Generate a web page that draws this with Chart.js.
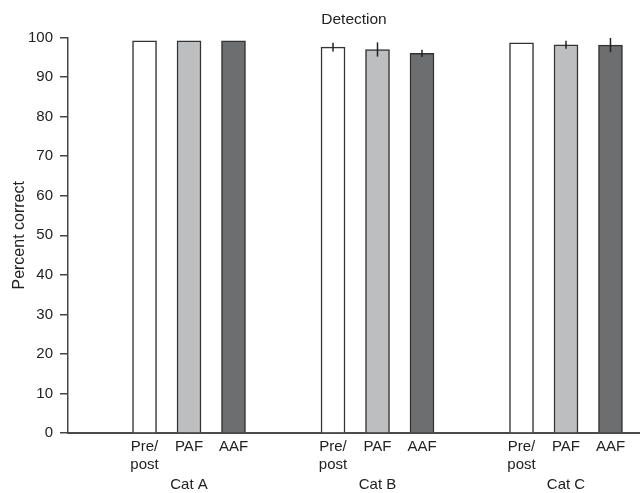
<!DOCTYPE html>
<html><head><meta charset="utf-8">
<script src="https://cdn.jsdelivr.net/npm/chart.js@4/dist/chart.umd.min.js"></script>
<style>html,body{margin:0;padding:0;background:#fff}</style>
</head><body>
<canvas id="c" width="640" height="493"></canvas>
<script>
// ---- data ----
const categories = ['Cat A', 'Cat B', 'Cat C'];
const conditions = [['Pre/', 'post'], 'PAF', 'AAF'];
const prePost    = [99.2, 97.6, 98.7];
const prePostErr = [0,    1.1,  0];
const paf        = [99.2, 97.0, 98.2];
const pafErr     = [0,    1.8,  1.0];
const aaf        = [99.2, 96.0, 98.1];
const aafErr     = [0,    0.9,  1.8];
const yTickStep  = 10;

// ---- layout helpers (scale positions, not mark coordinates) ----
const groupPos = [1, 2, 3];
const condOffset = [-0.236, 0, 0.236];
const xMin = 0.358, xMax = 3.3926;
const barPositions = [];
const barLabels = [];
groupPos.forEach(g => condOffset.forEach((o, k) => { barPositions.push(g + o); barLabels.push(conditions[k]); }));

const series = [
  { label: 'Pre/post', values: prePost, errors: prePostErr, color: '#ffffff' },
  { label: 'PAF',      values: paf,     errors: pafErr,     color: '#bdbec0' },
  { label: 'AAF',      values: aaf,     errors: aafErr,     color: '#6d6e70' }
];

const datasets = series.map((s, k) => ({
  label: s.label,
  data: s.values.map((v, i) => ({ x: groupPos[i] + condOffset[k], y: v })),
  errors: s.errors,
  backgroundColor: s.color,
  borderColor: '#333333',
  borderWidth: 1.5,
  grouped: false,
  barThickness: 24,
  maxBarThickness: 24,
  xAxisID: 'x'
}));

const errorBars = {
  id: 'errorBars',
  afterDatasetsDraw(chart) {
    const ctx = chart.ctx, y = chart.scales.y;
    chart.data.datasets.forEach((ds, i) => {
      const meta = chart.getDatasetMeta(i);
      meta.data.forEach((el, j) => {
        const e = ds.errors[j];
        if (!e) return;
        const v = ds.data[j].y;
        ctx.save();
        ctx.strokeStyle = '#222';
        ctx.lineWidth = 1.5;
        ctx.beginPath();
        ctx.moveTo(el.x, y.getPixelForValue(v + e));
        ctx.lineTo(el.x, y.getPixelForValue(v - e));
        ctx.stroke();
        ctx.restore();
      });
    });
  }
};

const FONT = "'Liberation Sans', Arial, Helvetica, sans-serif";
const TXT = '#222222';

new Chart(document.getElementById('c'), {
  type: 'bar',
  data: { datasets },
  plugins: [errorBars],
  options: {
    responsive: false,
    devicePixelRatio: 1,
    animation: false,
    layout: { padding: 0 },
    plugins: {
      legend: { display: false },
      tooltip: { enabled: false },
      title: {
        display: true, text: 'Detection', color: TXT, fullSize: false,
        font: { family: FONT, size: 15.5, weight: 'normal' },
        padding: { top: 10, bottom: 9 }
      }
    },
    scales: {
      x: {
        type: 'linear', position: 'bottom', min: xMin, max: xMax, offset: false,
        afterBuildTicks: s => { s.ticks = barPositions.map(v => ({ value: v })); },
        ticks: {
          callback: (v, i) => barLabels[i],
          autoSkip: false, maxRotation: 0, padding: 5, color: TXT,
          font: { family: FONT, size: 15 }
        },
        grid: { display: false, drawTicks: false, offset: false },
        border: { display: true, color: '#4a4a4a', width: 2 },
        afterFit: s => { s.height = 40; }
      },
      x2: {
        type: 'linear', position: 'bottom', min: xMin, max: xMax, offset: false,
        afterBuildTicks: s => { s.ticks = groupPos.map(v => ({ value: v })); },
        ticks: {
          callback: (v, i) => categories[i],
          autoSkip: false, maxRotation: 0, padding: 3, color: TXT,
          font: { family: FONT, size: 15 }
        },
        grid: { display: false, drawTicks: false, offset: false },
        border: { display: false },
        afterFit: s => { s.height = 20; }
      },
      y: {
        min: 0, max: 100,
        ticks: { stepSize: yTickStep, padding: 7, color: TXT, font: { family: FONT, size: 15 } },
        grid: { display: true, drawOnChartArea: false, drawTicks: true, tickLength: 8, color: '#444', lineWidth: 1.5 },
        border: { display: true, color: '#444', width: 1.5 },
        title: {
          display: true, text: 'Percent correct', color: TXT,
          font: { family: FONT, size: 16 }, padding: { top: 10, bottom: 0 }
        },
        afterFit: s => { s.width = 68; }
      }
    }
  }
});
</script>
</body></html>
